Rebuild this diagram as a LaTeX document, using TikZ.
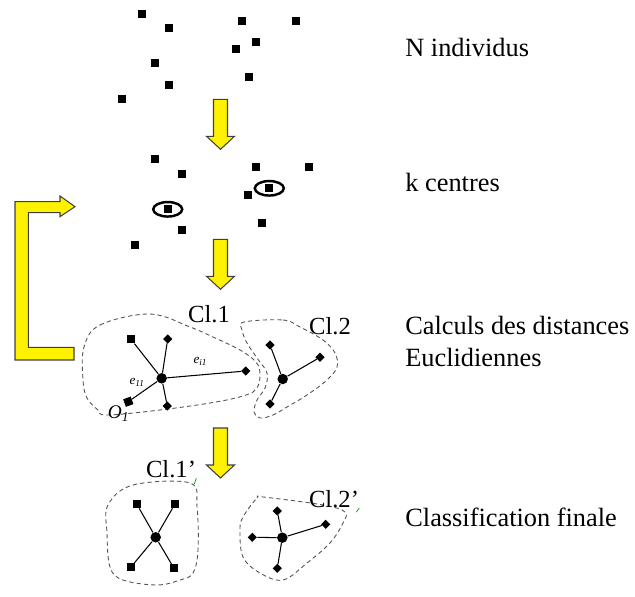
\documentclass[tikz,border=0pt]{standalone}
\usepackage{fontspec}
\setmainfont{Liberation Serif}
\usetikzlibrary{shapes.geometric}

\newcommand{\blockdown}[2]{%
 \draw[yarrow] (#1-7,#2) -- (#1+7,#2) -- (#1+7,#2+37) -- (#1+14,#2+37)
  -- (#1,#2+50) -- (#1-14,#2+37) -- (#1-7,#2+37) -- cycle;}

\begin{document}
\begin{tikzpicture}[x=0.02cm,y=-0.02cm,
 every node/.style={inner sep=0pt},
 sq/.style={fill=black,minimum size=0.16cm},
 dia/.style={fill=black,minimum size=0.13cm,rotate=45},
 ctr/.style={circle,fill=black,minimum size=0.21cm},
 ring/.style={ellipse,draw=black,line width=1.4pt,minimum width=0.58cm,minimum height=0.29cm},
 link/.style={line width=0.6pt},
 hull/.style={draw=gray!65!black,dash pattern=on 2.4pt off 1.8pt,line width=0.5pt},
 tick/.style={draw=green!60!black,line width=0.4pt},
 yarrow/.style={draw=black!75,fill=yellow,line width=0.6pt},
 txt/.style={font=\fontsize{15}{18}\selectfont,anchor=base west,align=left},
 cl/.style={font=\fontsize{14}{16}\selectfont},
 elab/.style={font=\fontsize{7.5}{8}\selectfont\itshape}]
\useasboundingbox (0,0) rectangle (635,597);

% texts
\node[txt] (t1) at (405,56.5) {N individus};
\node[txt] (t2) at (405,191.5) {k centres};
\node[txt] (t3) at (405,366.5) {Calculs des distances\\Euclidiennes};
\node[txt] (t4) at (405,526) {Classification finale};

% N individus
\node[sq] (n1) at (141.7,14) {};
\node[sq] (n2) at (168.7,28) {};
\node[sq] (n3) at (242.3,21) {};
\node[sq] (n4) at (296,21) {};
\node[sq] (n5) at (255.7,42) {};
\node[sq] (n6) at (235.7,49) {};
\node[sq] (n7) at (155.3,63.3) {};
\node[sq] (n8) at (168.7,84.7) {};
\node[sq] (n9) at (248.7,77.3) {};
\node[sq] (n10) at (121.7,99) {};

% k centres
\node[sq] (k1) at (155,159.3) {};
\node[sq] (k2) at (181.7,174) {};
\node[sq] (k3) at (255.7,166.7) {};
\node[sq] (k4) at (309.3,166.7) {};
\node[sq] (k5) at (248.3,195) {};
\node[sq] (k6) at (181.7,230.3) {};
\node[sq] (k7) at (262.3,223) {};
\node[sq] (k8) at (135,244.7) {};
\node[ring] (r1) at (269.3,188.3) {};
\node[sq] (k9) at (r1) {};
\node[ring] (r2) at (167.7,209.3) {};
\node[sq] (k10) at (r2) {};

% block arrows
\blockdown{220.5}{99.3}
\blockdown{220.5}{239.3}
\blockdown{220.5}{428}
\draw[yarrow] (15,360) -- (74,360) -- (74,347.3) -- (28.3,347.3) -- (28.3,212.7)
 -- (60,212.7) -- (60,216.7) -- (75,206.7) -- (60,196) -- (60,201.7) -- (15,201.7) -- cycle;

% distances
\draw[hull] plot[smooth cycle,tension=0.6] coordinates {(84,347) (100,325) (150,314) (190,327)
 (213,337) (240,350) (256,362) (260,374) (257,388) (246,395) (216,402) (160,410) (107,415)
 (98,410) (87,398) (83,380)};
\draw[hull] plot[smooth cycle,tension=0.6] coordinates {(244,322) (283,320) (300,327) (323,340)
 (335,353) (337,367) (327,380) (307,395) (287,407) (273,415) (260,418) (254,412) (257,400)
 (265,388) (267,373) (257,358) (247,343) (242,330)};
\node[cl] (cl1) at (209,314) {Cl.1};
\node[cl] (cl2) at (330,326) {Cl.2};
\node[ctr] (c1) at (161.7,378.3) {};
\node[sq] (a1) at (131,339.3) {};
\node[dia] (a2) at (167.7,339) {};
\node[dia] (a3) at (245.7,371) {};
\node[dia] (a4) at (167.3,406) {};
\node[sq,rotate=20] (a5) at (128.3,401.7) {};
\node[font=\fontsize{11}{12}\selectfont\itshape,anchor=north east] (o1) at (a5.south) {O\textsubscript{1}};
\draw[link] (c1) -- (a1);
\draw[link] (c1) -- (a2);
\draw[link] (c1) -- node[elab,pos=0.45,above=5pt] {e\textsubscript{i1}} (a3);
\draw[link] (c1) -- (a4);
\draw[link] (c1) -- node[elab,pos=0.4,above left=1pt] {e\textsubscript{11}} (a5);
\node[ctr] (c2) at (282.7,379) {};
\node[dia] (b1) at (270,345) {};
\node[dia] (b2) at (320,357.3) {};
\node[dia] (b3) at (270,404) {};
\draw[link] (c2) -- (b1);
\draw[link] (c2) -- (b2);
\draw[link] (c2) -- (b3);

% classification finale
\draw[hull] plot[smooth cycle,tension=0.6] coordinates {(108,505) (133,485) (190,483) (197,507)
 (198,550) (193,573) (180,580) (157,585) (123,580) (110,567) (107,533)};
\draw[hull] plot[smooth cycle,tension=0.6] coordinates {(243,517) (257,498) (263,497) (323,505)
 (345,512) (343,523) (330,543) (307,563) (283,580) (260,573) (243,557) (240,530)};
\node[cl] (cl3) at (171,469) {Cl.1'};
\node[cl] (cl4) at (334,499) {Cl.2'};
\draw[tick] (cl3.south east) -- ++(-2,6);
\draw[tick] (cl4.south east) -- ++(-3,4);
\node[ctr] (c3) at (155.7,537.3) {};
\node[sq] (d1) at (136.7,504) {};
\node[sq] (d2) at (175,504) {};
\node[sq] (d3) at (130.7,567.3) {};
\node[sq] (d4) at (174,568.3) {};
\draw[link] (c3) -- (d1);
\draw[link] (c3) -- (d2);
\draw[link] (c3) -- (d3);
\draw[link] (c3) -- (d4);
\node[ctr] (c4) at (282.3,537.7) {};
\node[dia] (f1) at (277.3,511) {};
\node[dia] (f2) at (252.3,537.3) {};
\node[dia] (f3) at (325.7,524.3) {};
\node[dia] (f4) at (277.3,568.3) {};
\draw[link] (c4) -- (f1);
\draw[link] (c4) -- (f2);
\draw[link] (c4) -- (f3);
\draw[link] (c4) -- (f4);
\end{tikzpicture}
\end{document}
